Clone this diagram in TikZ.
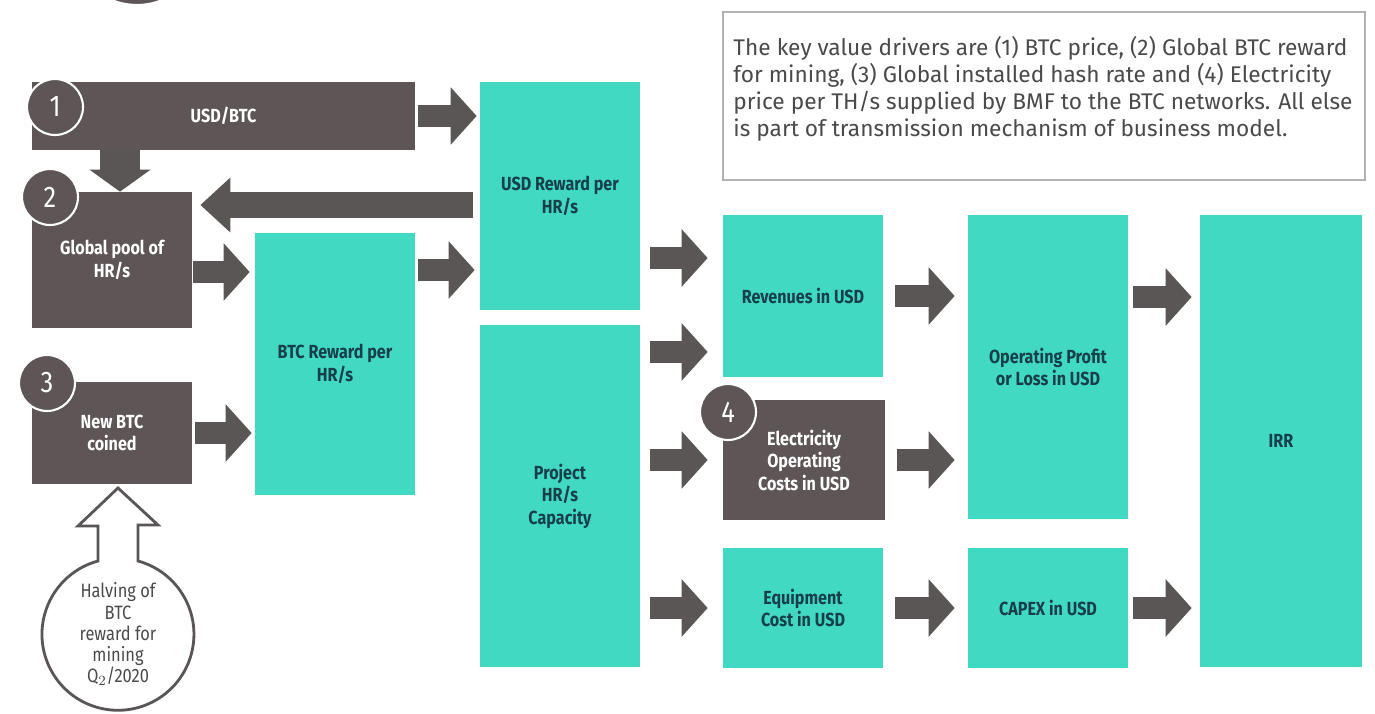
\documentclass[tikz,border=0pt]{standalone}
\usepackage{fontspec}
\setmainfont[FakeStretch=0.85]{Fira Sans}
\newfontfamily\notefont{Fira Sans}
\usetikzlibrary{arrows.meta,positioning,calc}

\definecolor{boxteal}{HTML}{42D9C2}
\definecolor{boxdark}{HTML}{5E5656}
\definecolor{arrowgray}{HTML}{5A5656}
\definecolor{textnavy}{HTML}{15404A}
\definecolor{notegray}{HTML}{4A4A4A}

\tikzset{
	tealbox/.style={fill=boxteal, minimum width=3.2cm, align=center, text=textnavy, inner sep=2pt,
		font=\bfseries\fontsize{10.8}{12.8}\selectfont},
	darkbox/.style={tealbox, fill=boxdark, text=white},
	numdisc/.style={circle, fill=boxdark, draw=white, line width=1.2pt, minimum size=1.12cm,
		text=white, font=\fontsize{17}{17}\selectfont},
	bigarrow/.style={draw=arrowgray, line width=0.44cm, -{Triangle[width=1.12cm,length=0.52cm]}},
}

\begin{document}
\begin{tikzpicture}[x=0.02cm, y=-0.02cm]
	\useasboundingbox (0,0) rectangle (1375,713);
	\fill[white] (0,0) rectangle (1375,713);

	% cut-off disc at the top edge
	\filldraw[fill=boxdark, draw=white, line width=1.2pt] (137,-62) circle (1.34cm);

	% inputs
	\node[darkbox, minimum width=7.66cm, minimum height=1.36cm] (usdbtc) at (223.5,116) {USD/BTC};
	\node[darkbox, minimum height=2.72cm] (pool) at (112,260) {Global pool of\\HR/s};
	\node[darkbox, minimum height=2.04cm] (coined) at (112,433) {New BTC\\coined};
	\node[numdisc] (n1) at (55,107) {1};
	\node[numdisc] (n2) at (50,197) {2};
	\node[numdisc] (n3) at (47,383) {3};

	% transmission boxes
	\node[tealbox, minimum height=5.24cm] (btcrew) at (335,364) {BTC Reward per\\HR/s};
	\node[tealbox, minimum height=4.56cm] (usdrew) at (560,196) {USD Reward per\\HR/s};
	\node[tealbox, minimum height=6.86cm] (proj) at (560,496) {Project\\HR/s\\Capacity};
	\node[tealbox, minimum height=3.26cm] (rev) at (803,296) {Revenues in USD};
	\node[darkbox, minimum width=3.24cm, minimum height=2.4cm] (elec) at (804,460) {Electricity\\Operating\\Costs in USD};
	\node[numdisc] (n4) at (728,412) {4};
	\node[tealbox, minimum height=2.4cm] (equip) at (803,608) {Equipment\\Cost in USD};
	\node[tealbox, minimum height=6.1cm] (oppl) at (1048,367) {Operating Profit\\or Loss in USD};
	\node[tealbox, minimum height=2.4cm] (capex) at (1048,608) {CAPEX in USD};
	\node[tealbox, minimum width=3.24cm, minimum height=9.06cm] (irr) at (1281,441) {IRR};

	% note
	\node[draw=black!30, line width=0.8pt, fill=white, minimum width=12.84cm, minimum height=3.36cm] (note) at (1044,96) {};
	\node[text=notegray, align=left, font=\notefont\fontsize{12.9}{15.3}\selectfont] (notetext) at (1043,89)
		{The key value drivers are (1) BTC price, (2) Global BTC reward\\
		for mining, (3) Global installed hash rate and (4) Electricity\\
		price per TH/s supplied by BMF to the BTC networks. All else\\
		is part of transmission mechanism of business model.};

	% halving bubble
	\node[text=notegray, align=center, font=\fontsize{11}{12}\selectfont] (halving) at (118,634)
		{Halving of\\BTC\\reward for\\mining\\Q$_2$/2020};
	\draw[draw=arrowgray, line width=1.6pt]
		([shift={(-20,-73)}]halving.center) -- ++(0,-35) -- ++(-20,0) -- (118,488) -- (158,525) -- (138,525)
		-- ([shift={(20,-73)}]halving.center) arc[start angle=74.7, end angle=-254.7, radius=1.52cm] -- cycle;

	% arrows
	\coordinate (d1) at ([xshift=-2.07cm]usdbtc.south);
	\coordinate (l1) at ([yshift=-0.18cm]usdrew.west);
	\coordinate (p1) at ([yshift=-0.24cm]pool.east);
	\coordinate (b1) at ([yshift=1.88cm]btcrew.east);
	\coordinate (r1) at ([yshift=0.76cm]rev.west);
	\coordinate (r2) at ([yshift=-1.12cm]rev.west);
	\coordinate (o1) at ([yshift=1.4cm]oppl.east);

	\draw[bigarrow, shorten <=0.06cm, shorten >=0.06cm] (usdbtc.east) -- (usdbtc.east -| usdrew.west);
	\draw[bigarrow, line width=0.8cm, -{Triangle[width=1.2cm,length=0.44cm]}] (d1) -- (d1 |- pool.north);
	\draw[bigarrow, line width=0.52cm, -{Triangle[width=1.06cm,length=0.6cm]}, shorten <=0.14cm, shorten >=0.16cm]
		(l1) -- (l1 -| pool.east);
	\draw[bigarrow, shorten <=0.02cm, shorten >=0.1cm] (p1) -- (p1 -| btcrew.west);
	\draw[bigarrow, shorten <=0.06cm, shorten >=0.1cm] (b1) -- (b1 -| usdrew.west);
	\draw[bigarrow, shorten <=0.06cm, shorten >=0.06cm] (coined.east) -- (coined.east -| btcrew.west);
	\draw[bigarrow, shorten <=0.2cm, shorten >=0.3cm] (r1 -| usdrew.east) -- (r1);
	\draw[bigarrow, shorten <=0.2cm, shorten >=0.3cm] (r2 -| proj.east) -- (r2);
	\draw[bigarrow, shorten <=0.2cm, shorten >=0.3cm] (elec.west -| proj.east) -- (elec.west);
	\draw[bigarrow, shorten <=0.2cm, shorten >=0.3cm] (equip.west -| proj.east) -- (equip.west);
	\draw[bigarrow, shorten <=0.24cm, shorten >=0.26cm] (rev.east) -- (rev.east -| oppl.west);
	\draw[bigarrow, shorten <=0.24cm, shorten >=0.26cm] (elec.east) -- (elec.east -| oppl.west);
	\draw[bigarrow, shorten <=0.24cm, shorten >=0.26cm] (equip.east) -- (equip.east -| capex.west);
	\draw[bigarrow, shorten <=0.1cm, shorten >=0.16cm] (o1) -- (o1 -| irr.west);
	\draw[bigarrow, shorten <=0.1cm, shorten >=0.16cm] (capex.east) -- (capex.east -| irr.west);
\end{tikzpicture}
\end{document}
